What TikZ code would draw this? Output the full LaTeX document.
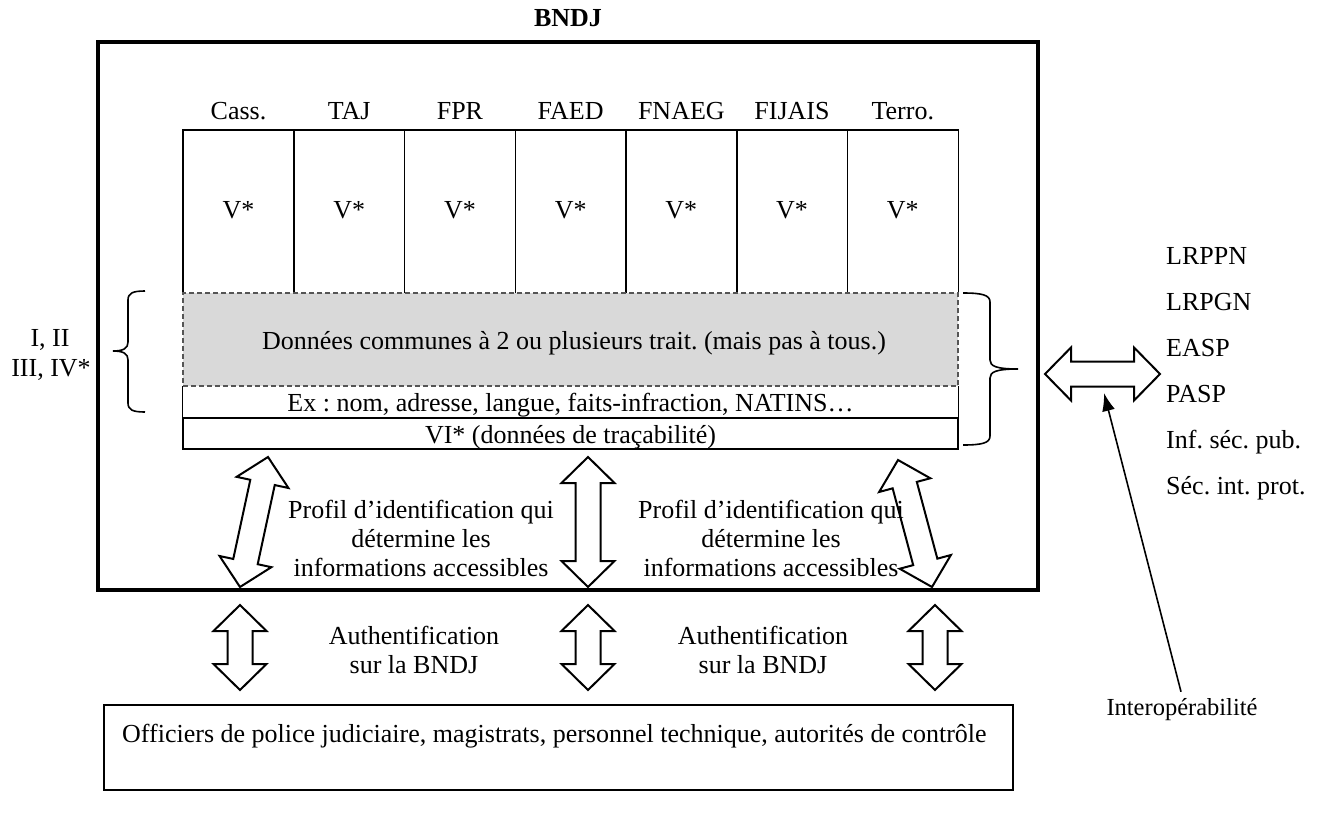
\documentclass[tikz,border=0pt]{standalone}
\usepackage{fontspec}
\setmainfont{Liberation Serif}
\usetikzlibrary{calc,arrows.meta}

\definecolor{commongray}{HTML}{D9D9D9}
\definecolor{dashgray}{HTML}{555555}

% Hollow double-headed arrow drawn as a polygon between two tips
\newcommand\arrhead{26pt}
\newcommand\arrwing{26.5pt}
\newcommand\arrshaft{12.5pt}
\newcommand\fatdblarrow[3]{%
  \coordinate (#1-s) at (#2);
  \coordinate (#1-e) at (#3);
  \coordinate (#1-hs) at ($(#1-s)!\arrhead!(#1-e)$);
  \coordinate (#1-he) at ($(#1-e)!\arrhead!(#1-s)$);
  \coordinate (#1-mid) at ($(#1-s)!0.5!(#1-e)$);
  \draw[fatarrow] (#1-s)
    -- ($(#1-hs)!\arrwing!90:(#1-e)$)
    -- ($(#1-hs)!\arrshaft!90:(#1-e)$)
    -- ($(#1-he)!\arrshaft!-90:(#1-s)$)
    -- ($(#1-he)!\arrwing!-90:(#1-s)$)
    -- (#1-e)
    -- ($(#1-he)!\arrwing!90:(#1-s)$)
    -- ($(#1-he)!\arrshaft!90:(#1-s)$)
    -- ($(#1-hs)!\arrshaft!-90:(#1-e)$)
    -- ($(#1-hs)!\arrwing!-90:(#1-e)$)
    -- cycle;
}

\frenchspacing
\begin{document}
\begin{tikzpicture}[x=1pt,y=-1pt,
  every node/.style={inner sep=0pt,font=\fontsize{26}{29}\selectfont},
  txt/.style={anchor=base},
  gridline/.style={line width=1.2pt},
  fatarrow/.style={line width=2pt,fill=white,line join=miter},
  bracket/.style={line width=1.6pt},
  cell/.style={minimum width=110.7pt,minimum height=163pt,anchor=north west}
]
\useasboundingbox (0,0) rectangle (1332,832);

% outer frame and its title
\node[draw,line width=3.2pt,minimum width=940pt,minimum height=548pt] (bndj) at (568,316) {};
\node[txt,font=\fontsize{26}{29}\selectfont\bfseries] (title) at (568,27) {BNDJ};

% the seven processing columns
\foreach \n [count=\i] in {Cass.,TAJ,FPR,FAED,FNAEG,FIJAIS,Terro.}{
  \node[cell] (col\i) at ({183+(\i-1)*110.7},130) {};
  \draw[gridline] (col\i.south west) |- (col\i.north east) -- (col\i.south east);
  \node[txt] (hdr\i) at ($(col\i.north)+(0,-10)$) {\n};
  \node[txt] (v\i) at ($(col\i.center)+(0,7)$) {V*};
}

% shared data block
\node[fill=commongray,draw=dashgray,dash pattern=on 5pt off 3pt,line width=1.2pt,
      minimum width=775pt,minimum height=93pt] (common) at (570.5,339.5) {};
\node[txt] (commontxt) at (574,349) {Données communes à 2 ou plusieurs trait. (mais pas à tous.)};
\node[minimum width=775pt,minimum height=32pt] (ex) at (570.5,402) {};
\draw[gridline] (ex.north west) -- (ex.south west) (ex.north east) -- (ex.south east);
\node[txt] (extxt) at (570.5,411) {Ex : nom, adresse, langue, faits-infraction, NATINS…};
\node[draw,line width=1.6pt,minimum width=775pt,minimum height=31pt] (vi) at (570.5,433.5) {};
\node[txt] (vitxt) at (570.5,443) {VI* (données de traçabilité)};

% left brace and its label
\draw[bracket] (145,291) .. controls (133,291) and (128,293) .. (128,300) -- (128,342)
  .. controls (128,348) and (124,351) .. (113,351)
  .. controls (124,351) and (128,354) .. (128,360) -- (128,403)
  .. controls (128,410) and (133,412) .. (145,412);
\node[txt] (lvl1) at (50,346) {I, II};
\node[txt] (lvl2) at (51,376) {III, IV*};

% right brace
\draw[bracket] (963,293) .. controls (982,293) and (990,295) .. (990,302) -- (990,360)
  .. controls (990,366) and (996,369) .. (1018,369)
  .. controls (996,369) and (990,372) .. (990,378) -- (990,436)
  .. controls (990,443) and (982,445) .. (963,445);

% access arrows inside the frame
\fatdblarrow{in1}{240,587}{268,457}
\fatdblarrow{in2}{588,587}{588,457}
\fatdblarrow{in3}{932,587}{898,460}
\node[align=center] (prof1) at (421,538) {Profil d’identification qui\\détermine les\\informations accessibles};
\node[align=center] (prof2) at (771,538) {Profil d’identification qui\\détermine les\\informations accessibles};

% authentication arrows below the frame
\fatdblarrow{out1}{240,690}{240,605}
\fatdblarrow{out2}{588,690}{588,605}
\fatdblarrow{out3}{935,690}{935,605}
\node[align=center] (auth1) at (414,650) {Authentification\\sur la BNDJ};
\node[align=center] (auth2) at (763,650) {Authentification\\sur la BNDJ};

% users
\node[draw,line width=1.3pt,minimum width=909pt,minimum height=85pt] (users) at (558.5,747.5) {};
\node[txt,anchor=base west] (userstxt) at (122,742) {Officiers de police judiciaire, magistrats, personnel technique, autorités de contrôle};

% interoperability with external files
\fatdblarrow{ext}{1045,374}{1160,374}
\foreach \t [count=\k] in {LRPPN,LRPGN,EASP,PASP,Inf. séc. pub.,Séc. int. prot.}{
  \node[txt,anchor=base west] (ext\k) at (1166,{264+(\k-1)*46}) {\t};
}
\node[txt,font=\fontsize{24.5}{28}\selectfont] (interop) at (1182,715) {Interopérabilité};
\coordinate (interop-tip) at (1104,393);
\draw[line width=1.6pt,-{Latex[length=18pt,width=13pt]}] ($(interop.north)+(-1,-6)$) -- (interop-tip);
\end{tikzpicture}
\end{document}
